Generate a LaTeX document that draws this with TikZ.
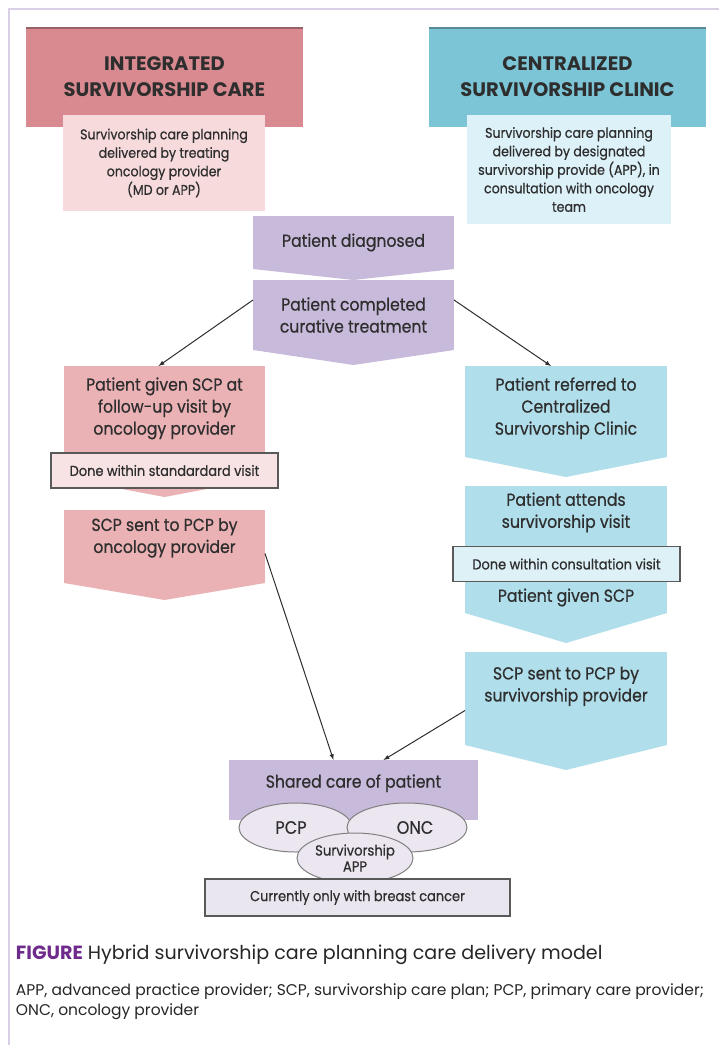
\documentclass[tikz,border=0pt]{standalone}
\usepackage{fontspec}
\setmainfont{Poppins}
\newfontfamily\boxfont{Poppins}[FakeStretch=0.9, FakeBold=0.6]
\newfontfamily\headfont{Poppins}
\usetikzlibrary{calc,shapes.geometric}

\definecolor{framelav}{HTML}{D9CFE6}
\definecolor{inkgray}{HTML}{2E2E2E}
\definecolor{redhead}{HTML}{D98A90}
\definecolor{redpale}{HTML}{F6DADC}
\definecolor{redstep}{HTML}{EBB2B6}
\definecolor{rednote}{HTML}{F8E3E4}
\definecolor{bluehead}{HTML}{7CC5D6}
\definecolor{bluepale}{HTML}{DCF1F8}
\definecolor{bluestep}{HTML}{B0DEEA}
\definecolor{bluenote}{HTML}{DDF1F7}
\definecolor{purplestep}{HTML}{C8BADA}
\definecolor{ovalfill}{HTML}{ECE6F1}
\definecolor{lavnote}{HTML}{EAE6EF}
\definecolor{figpurple}{HTML}{6E2B8C}

% pointed bottom of a flow box
\newcommand{\chevtip}[3]{\fill[#1] (#2.south west) -- (#2.south east) -- ($(#2.south)+(0,#3)$) -- cycle;}

\begin{document}
\begin{tikzpicture}[x=1pt, y=-1pt,
    every node/.style={outer sep=0pt, inner sep=0pt, align=center, text=inkgray},
    headbox/.style={rectangle, minimum width=277pt, minimum height=100pt, font=\headfont\bfseries\fontsize{19.5}{26}\selectfont},
    planbox/.style={rectangle, minimum width=202pt, font=\boxfont\fontsize{14}{18.5}\selectfont},
    flowl/.style={rectangle, fill=redstep, minimum width=201pt, font=\boxfont\fontsize{17.4}{22}\selectfont},
    flowr/.style={rectangle, fill=bluestep, minimum width=202pt, font=\boxfont\fontsize{17.4}{22}\selectfont},
    flowp/.style={rectangle, fill=purplestep, minimum width=201pt, font=\boxfont\fontsize{17.4}{22}\selectfont},
    notebox/.style={rectangle, draw=black!65, line width=1.2pt, minimum width=227pt, minimum height=35pt, font=\boxfont\fontsize{14.4}{16}\selectfont},
    careoval/.style={ellipse, draw=black!50, line width=1pt, fill=ovalfill, minimum width=113pt, minimum height=49pt, font=\boxfont\fontsize{18}{18}\selectfont}]
    \useasboundingbox (0,0) rectangle (719,1045);
    \draw[framelav, line width=2.5pt] (719,9) -- (9,9) -- (9,1045);

    % Care models
    \node [headbox, fill=redhead] (integrated) at (164.5,77) {INTEGRATED\\SURVIVORSHIP CARE};
    \node [headbox, fill=bluehead] (centralized) at (567.5,77) {CENTRALIZED\\SURVIVORSHIP CLINIC};
    \draw[redhead!70!black, line width=2pt] ([yshift=-1pt]integrated.north west) -- ([yshift=-1pt]integrated.north east);
    \draw[bluehead!70!black, line width=2pt] ([yshift=-1pt]centralized.north west) -- ([yshift=-1pt]centralized.north east);
    \node [planbox, fill=redpale, minimum height=96pt] (intplan) at (164,163) {Survivorship care planning\\delivered by treating\\oncology provider\\(MD or APP)};
    \node [planbox, fill=bluepale, minimum width=204pt, minimum height=109pt] (cenplan) at (569,169.5) {Survivorship care planning\\delivered by designated\\survivorship provide (APP), in\\consultation with oncology\\team};

    % Common start
    \node [flowp, minimum height=53pt] (diagnosed) at (353.5,242.5) {Patient diagnosed};
    \chevtip{purplestep}{diagnosed}{11}
    \node [flowp, minimum height=70pt, below of=diagnosed, node distance=72.5pt] (completed) {Patient completed\\curative treatment};
    \chevtip{purplestep}{completed}{15}

    % Integrated path
    \node [flowl, minimum height=112pt, text depth=32pt] (givenl) at (164.5,422) {Patient given SCP at\\follow-up visit by\\oncology provider};
    \chevtip{redstep}{givenl}{19}
    \node [notebox, fill=rednote] (stdvisit) at (164.5,470.5) {Done within standardard visit};
    \node [flowl, minimum height=73pt, text depth=22pt, below of=givenl, node distance=124.5pt] (sentl) {SCP sent to PCP by\\oncology provider};
    \chevtip{redstep}{sentl}{17}

    % Centralized path
    \node [flowr, minimum height=91pt, text depth=11pt] (referred) at (566,411.5) {Patient referred to\\Centralized\\Survivorship Clinic};
    \chevtip{bluestep}{referred}{20}
    \node [flowr, minimum height=127pt, below of=referred, node distance=138pt] (attends) {Patient attends\\survivorship visit\\[52pt]Patient given SCP};
    \chevtip{bluestep}{attends}{30}
    \node [notebox, fill=bluenote] (consult) at (566.5,564) {Done within consultation visit};
    \node [flowr, minimum height=93pt, text depth=29pt, below of=attends, node distance=149pt] (sentr) {SCP sent to PCP by\\survivorship provider};
    \chevtip{bluestep}{sentr}{25}

    % Shared care
    \node [flowp, minimum width=249pt, minimum height=60pt, text depth=18pt] (shared) at (353.5,790) {Shared care of patient};
    \node [careoval] (pcp) at (295.5,827.5) {PCP\hspace*{9pt}};
    \node [careoval, minimum width=120pt] (onc) at (407,827.5) {\hspace*{16pt}ONC};
    \node [careoval, minimum width=116pt, minimum height=50pt, font=\boxfont\fontsize{14.6}{16}\selectfont] (sapp) at (355,858) {Survivorship\\APP};
    \node [notebox, fill=lavnote, minimum width=305pt, minimum height=37pt] (breast) at (357.5,897.5) {Currently only with breast cancer};

    % Arrows
    \draw[-latex, inkgray, line width=1pt] ([yshift=15pt]completed.west) -- ([xshift=-6pt]givenl.north);
    \draw[-latex, inkgray, line width=1pt] ([yshift=15pt]completed.east) -- ([xshift=-15pt]referred.north);
    \draw[-latex, inkgray, line width=1pt] ([yshift=-7pt]sentl.east) -- ([xshift=-20pt]shared.north);
    \draw[-latex, inkgray, line width=1pt] ([yshift=-12pt]sentr.west) -- ([xshift=30pt]shared.north);

    % Caption
    \node [anchor=west, font=\fontsize{19.1}{22}\selectfont, text=black!85] (caption) at (16,955) {\textcolor{figpurple}{\bfseries FIGURE} Hybrid survivorship care planning care delivery model};
    \node [anchor=west, align=left, font=\fontsize{15.5}{20}\selectfont, text=black!85] (abbrev) at (16,1002) {APP, advanced practice provider; SCP, survivorship care plan; PCP, primary care provider;\\ONC, oncology provider};
\end{tikzpicture}
\end{document}
